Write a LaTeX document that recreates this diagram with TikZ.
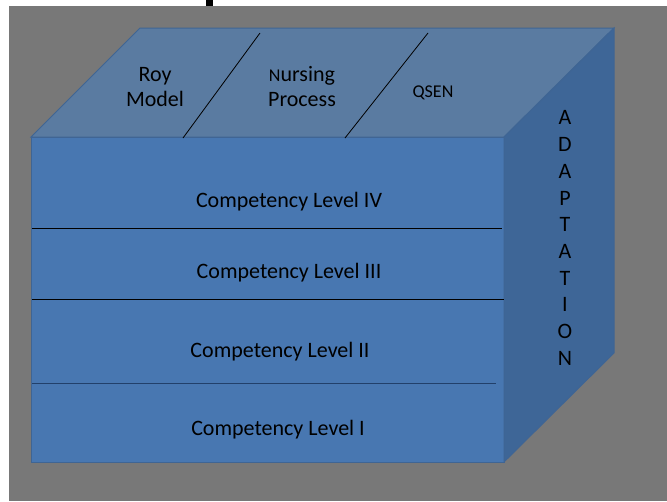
\documentclass[tikz,border=0pt]{standalone}
\usepackage{fontspec}
\setmainfont{Carlito}
\definecolor{bggrey}{HTML}{787878}
\definecolor{frontblue}{HTML}{4877B1}
\definecolor{topblue}{HTML}{5A7BA1}
\definecolor{sideblue}{HTML}{3E6697}
\definecolor{edgeblue}{HTML}{3F6594}
\definecolor{darkline}{HTML}{22406A}
\tikzset{
  face/.style={draw=edgeblue, line width=1pt, line join=miter},
  lbl/.style={font=\fontsize{22}{26}\selectfont, text=black, inner sep=0pt, align=center},
  divider/.style={draw=black, line width=0.9pt},
}
\begin{document}
\begin{tikzpicture}[x=1pt,y=-1pt]
\useasboundingbox (0,0) rectangle (667,501);
\fill[white] (0,0) rectangle (667,501);
\fill[bggrey] (8.5,6) rectangle (667,501);
\fill[black] (206,0) rectangle (213,6);
% cube corners
\coordinate (ftl) at (31,137);
\coordinate (ftr) at (504,137);
\coordinate (fbl) at (31,462);
\coordinate (fbr) at (504,462);
\coordinate (btl) at (140,28);
\coordinate (btr) at (614,28);
\coordinate (bbr) at (614,353);
% faces
\filldraw[face, fill=frontblue] (ftl) -- (ftr) -- (fbr) -- (fbl) -- cycle;
\filldraw[face, fill=topblue] (ftl) -- (btl) -- (btr) -- (ftr) -- cycle;
\filldraw[face, fill=sideblue] (ftr) -- (btr) -- (bbr) -- (fbr) -- cycle;
% top face dividers
\coordinate (t1a) at (260,33);
\coordinate (t1b) at (183,138);
\coordinate (t2a) at (428,33);
\coordinate (t2b) at (345,138);
\draw[black, line width=0.8pt] (t1a) -- (t1b);
\draw[black, line width=0.8pt] (t2a) -- (t2b);
% front dividers
\coordinate (d1a) at (32,228);
\coordinate (d1b) at (502,228);
\coordinate (d2a) at (32,299);
\coordinate (d2b) at (504,299);
\coordinate (d3a) at (32,383.5);
\coordinate (d3b) at (496,383.5);
\draw[divider] (d1a) -- (d1b);
\draw[divider] (d2a) -- (d2b);
\draw[draw=darkline, line width=1.6pt] (d3a) -- (d3b);
% labels
\node[lbl] (roy) at (155,87) {Roy\\[-1pt]Model};
\node[lbl] (nurs) at (302,87) {{\fontsize{18}{26}\selectfont N}ursing\\[-1pt]Process};
\node[lbl, font=\fontsize{18}{22}\selectfont] (qsen) at (433,93) {QSEN};
\node[lbl] (c4) at (289,202) {Competency Level IV};
\node[lbl] (c3) at (289,273) {Competency Level III};
\node[lbl] (c2) at (280,352) {Competency Level II};
\node[lbl] (c1) at (278,430) {Competency Level I};
\node[lbl, font=\fontsize{22}{26.7}\selectfont] (adapt) at (565,238) {A\\D\\A\\P\\T\\A\\T\\I\\O\\N};
\end{tikzpicture}
\end{document}
